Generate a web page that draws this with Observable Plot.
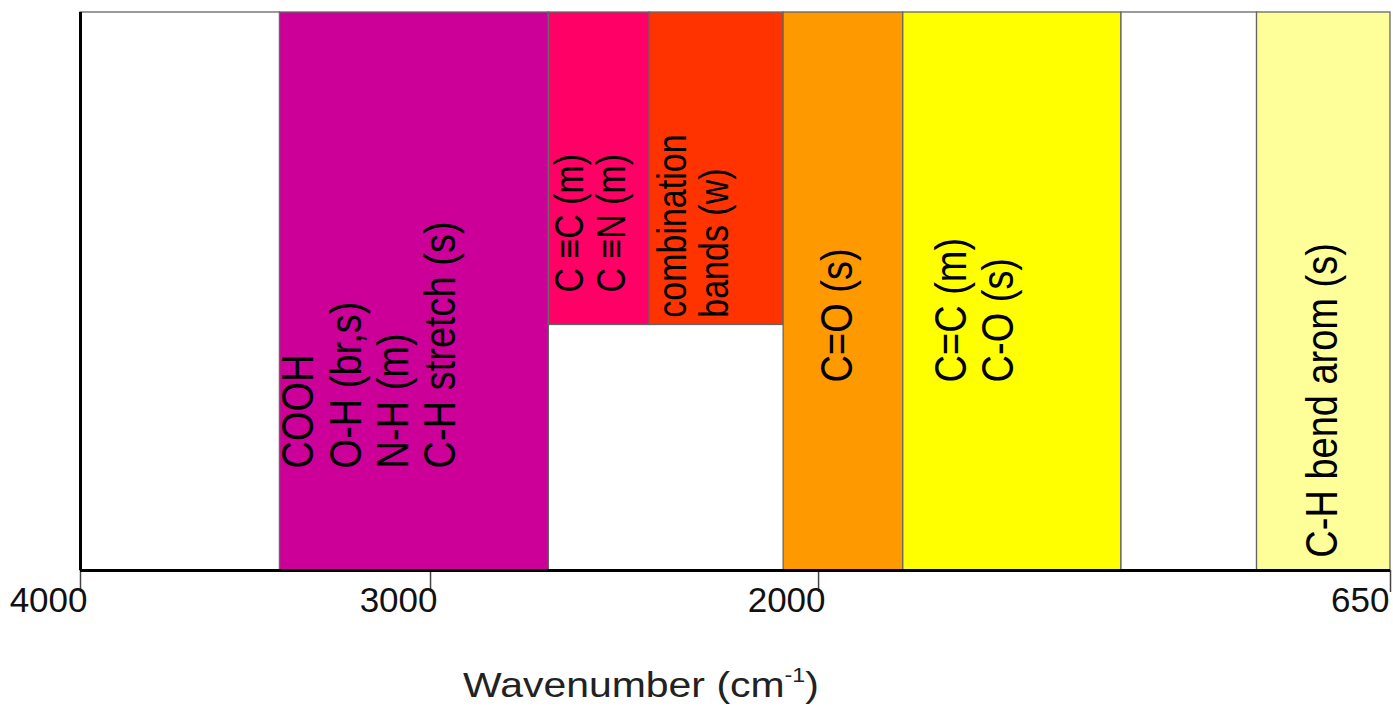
<!DOCTYPE html>
<html>
<head>
<meta charset="utf-8">
<script src="https://cdn.jsdelivr.net/npm/d3@7"></script>
<script src="https://cdn.jsdelivr.net/npm/@observablehq/plot@0.6"></script>
<style>
  body { margin: 0; background: #fff; }
  #wrap { position: relative; width: 1393px; height: 709px; }
  #xtitle {
    position: absolute; left: 463px; top: 667px;
    font: 35px "Liberation Sans", Arial, sans-serif; line-height: 1;
    color: #222; white-space: nowrap;
    transform: scaleX(1.17); transform-origin: 0 0;
  }
  #xtitle sup { font-size: 0.57em; position: relative; top: -15px; vertical-align: baseline; line-height: 0; }
</style>
</head>
<body>
<div id="wrap">
  <div id="chart"></div>
  <div id="xtitle">Wavenumber (cm<sup>-1</sup>)</div>
</div>
<script>
// Absorption bands (wavenumber, cm-1)
const bandStart = [4000, 3430, 2695, 2435, 2090, 1800, 1285, 965];
const bandEnd   = [3430, 2695, 2435, 2090, 1800, 1285, 965, 650];
const bandBase  = [0, 0, 0.44, 0.44, 0, 0, 0, 0];
const bandColor = ["#FFFFFF", "#CC0099", "#FF0066", "#FF3300", "#FF9900", "#FFFF00", "#FFFFFF", "#FFFF99"];

// Band labels
const labelText = [
  "COOH\nO-H (br,s)\nN-H (m)\nC-H stretch (s)",
  "C \u2261C (m)\nC \u2261N (m)",
  "combination\nbands (w)",
  "C=O (s)",
  "C=C (m)\nC-O (s)",
  "C-H bend arom (s)"
];
const labelX = [3430, 2685, 2420, 2000, 1730, 855];
const labelY = [0.183, 0.498, 0.453, 0.337, 0.337, 0.023];
const labelSize = [38, 34, 34, 38, 38, 38];

// Axis ticks (the axis is piecewise linear between these breakpoints)
const tickValues = [4000, 3000, 2000];
const endTick = [650];
const axisBreaks = [4000, 3000, 2000, 650];
const axisBreakFraction = [0, 0.2672, 0.5634, 1];

const warp = d3.scaleLinear().domain(axisBreaks).range(axisBreakFraction);

const bands = bandStart.map((s, i) => ({start: s, end: bandEnd[i], base: bandBase[i], color: bandColor[i]}));
const labels = labelText.map((t, i) => ({text: t, x: labelX[i], y: labelY[i], size: labelSize[i]}));

const tickLabelStyle = {
  x: d => d, y: 0, text: d => String(d),
  fontSize: 35, textAnchor: "end", lineAnchor: "top", dy: 17, fill: "#111"
};

const chart = Plot.plot({
  width: 1393, height: 640,
  marginTop: 12, marginBottom: 70, marginLeft: 80, marginRight: 3,
  style: {fontFamily: '"Liberation Sans", Arial, sans-serif', background: "#fff", color: "#000"},
  x: {type: "linear", transform: warp, domain: [0, 1], range: [80, 1390], axis: null},
  y: {domain: [0, 1], range: [570, 12], axis: null},
  color: {type: "identity"},
  marks: [
    Plot.rect(bands, {x1: "start", x2: "end", y1: "base", y2: 1, fill: "color", stroke: "#666", strokeWidth: 1.3}),
    Plot.text(labels, {
      x: "x", y: "y", text: "text", fontSize: d => d.size,
      rotate: -90, textAnchor: "start", lineAnchor: "top", lineHeight: 1.05, fill: "#000"
    }),
    // tick marks below the axis line
    Plot.ruleX(tickValues.concat(endTick), {x: d => d, y1: 0, y2: 0, insetBottom: -22, stroke: "#444", strokeWidth: 1.5}),
    Plot.ruleY([0], {stroke: "#000", strokeWidth: 3}),
    Plot.ruleX([4000], {y1: 0, y2: 1, stroke: "#000", strokeWidth: 3}),
    Plot.text(tickValues, {...tickLabelStyle, dx: 7}),
    Plot.text(endTick, {...tickLabelStyle, dx: -1})
  ]
});

d3.select(chart).selectAll("text")
  .filter(function() { return (this.getAttribute("transform") || "").includes("rotate(-90)"); })
  .attr("transform", function() { return this.getAttribute("transform") + " scale(1,1.18)"; });

document.getElementById("chart").appendChild(chart);
</script>
</body>
</html>
